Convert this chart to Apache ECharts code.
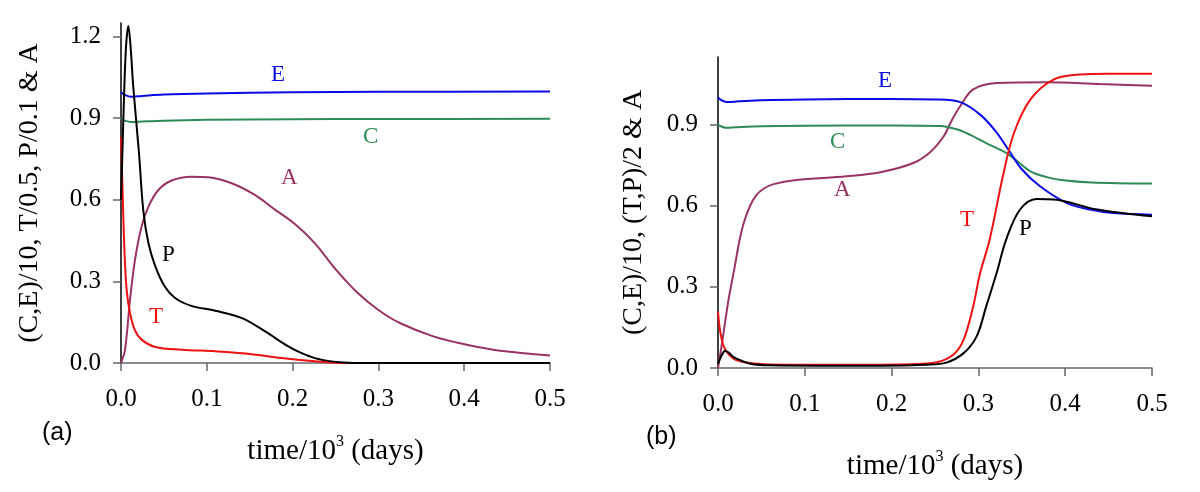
<!DOCTYPE html>
<html>
<head>
<meta charset="utf-8">
<script src="https://cdn.jsdelivr.net/npm/echarts@6/dist/echarts.min.js"></script>
<style>
  html, body { margin: 0; padding: 0; background: #fff; }
  #chart { width: 1200px; height: 492px; }
</style>
</head>
<body>
<div id="chart"></div>
<script>
// panel (a): time/10^3 days vs scaled values
const xTicks = [0, 0.1, 0.2, 0.3, 0.4, 0.5];
const yTicks = [0, 0.3, 0.6, 0.9, 1.2];

const aE = [[0,0.995],[0.005,0.985],[0.012,0.979],[0.025,0.982],[0.05,0.987],[0.1,0.991],[0.2,0.995],[0.3,0.997],[0.5,0.998]];
const aC = [[0,0.898],[0.005,0.89],[0.012,0.886],[0.025,0.888],[0.05,0.891],[0.1,0.894],[0.2,0.896],[0.3,0.897],[0.5,0.898]];
const aP = [[0,0.6],[0.0016,0.77],[0.0039,1.016],[0.006,1.17],[0.0085,1.239],[0.011,1.17],[0.0143,1.016],[0.021,0.77],[0.026,0.56],
  [0.032,0.44],[0.04,0.355],[0.051,0.281],[0.063,0.239],[0.082,0.21],[0.11,0.192],[0.141,0.165],[0.168,0.116],[0.195,0.061],
  [0.21,0.037],[0.226,0.018],[0.245,0.006],[0.26,0.002],[0.28,0],[0.5,0]];
const aT = [[0,0.83],[0.0016,0.66],[0.004,0.416],[0.0066,0.269],[0.0105,0.184],[0.016,0.122],[0.024,0.086],[0.04,0.059],
  [0.071,0.049],[0.11,0.043],[0.148,0.034],[0.187,0.018],[0.226,0.006],[0.255,0],[0.5,0]];
const aA = [[0,0],[0.0047,0.049],[0.0105,0.232],[0.0163,0.379],[0.024,0.502],[0.032,0.575],[0.0435,0.636],[0.059,0.671],
  [0.082,0.685],[0.102,0.683],[0.129,0.661],[0.156,0.618],[0.179,0.565],[0.203,0.51],[0.226,0.44],[0.25,0.345],
  [0.275,0.26],[0.3,0.195],[0.325,0.147],[0.364,0.098],[0.403,0.067],[0.442,0.045],[0.5,0.028]];

// panel (b)
const bE = [[0,1.0],[0.004,0.99],[0.01,0.984],[0.02,0.985],[0.05,0.99],[0.1,0.993],[0.2,0.995],[0.25,0.993],[0.279,0.983],
  [0.302,0.937],[0.32,0.875],[0.335,0.805],[0.35,0.735],[0.371,0.672],[0.402,0.61],[0.43,0.585],[0.455,0.573],[0.5,0.567]];
const bC = [[0,0.9],[0.004,0.893],[0.01,0.888],[0.02,0.89],[0.05,0.894],[0.1,0.896],[0.2,0.897],[0.256,0.895],[0.275,0.883],
  [0.29,0.863],[0.31,0.83],[0.335,0.789],[0.36,0.727],[0.38,0.705],[0.398,0.694],[0.43,0.686],[0.5,0.682]];
const bA = [[0,0],[0.005,0.1],[0.012,0.25],[0.019,0.37],[0.025,0.475],[0.03,0.54],[0.037,0.6],[0.044,0.638],[0.052,0.662],
  [0.064,0.68],[0.09,0.695],[0.148,0.709],[0.187,0.724],[0.225,0.758],[0.245,0.8],[0.26,0.857],[0.27,0.92],[0.279,0.968],
  [0.294,1.03],[0.321,1.054],[0.379,1.057],[0.44,1.05],[0.5,1.044]];
const bT = [[0,0.209],[0.006,0.085],[0.0175,0.035],[0.033,0.02],[0.06,0.013],[0.1,0.012],[0.187,0.012],[0.23,0.015],
  [0.252,0.021],[0.271,0.049],[0.283,0.105],[0.294,0.228],[0.302,0.351],[0.313,0.475],[0.329,0.721],[0.341,0.869],
  [0.36,0.993],[0.387,1.067],[0.417,1.085],[0.45,1.088],[0.5,1.088]];
const bP = [[0,0.015],[0.004,0.045],[0.008,0.063],[0.012,0.058],[0.018,0.04],[0.025,0.03],[0.037,0.016],[0.06,0.01],
  [0.187,0.008],[0.24,0.012],[0.263,0.02],[0.283,0.055],[0.298,0.117],[0.309,0.228],[0.321,0.351],[0.332,0.475],
  [0.348,0.586],[0.367,0.625],[0.387,0.623],[0.437,0.586],[0.5,0.561]];

const colors = { E: '#0a0ae6', C: '#2e8b57', A: '#993366', T: '#ee1111', P: '#000000' };
const serif = 'Liberation Serif';

const chart = echarts.init(document.getElementById('chart'));

function xAxisFor(gi, gap) {
  return {
    gridIndex: gi, type: 'value', min: 0, max: 0.5, interval: 0.1,
    name: 'time/10{sup|3} (days)', nameLocation: 'middle', nameGap: gap,
    nameTextStyle: {
      fontFamily: serif, fontSize: 29, color: '#000', lineHeight: 34,
      rich: { sup: { fontFamily: serif, fontSize: 16, verticalAlign: 'top', lineHeight: 18, color: '#000' } }
    },
    axisLine: { lineStyle: { color: '#666', width: 1.5 } },
    axisTick: { inside: false, length: 8, lineStyle: { color: '#666', width: 1.5 }, customValues: xTicks },
    axisLabel: { margin: 24, fontFamily: serif, fontSize: 25, color: '#000', customValues: xTicks,
      formatter: v => v.toFixed(1) },
    splitLine: { show: false }
  };
}
function yAxisFor(gi, max, name, gap) {
  return {
    gridIndex: gi, type: 'value', min: 0, max: max,
    name: name, nameLocation: 'middle', nameGap: gap,
    nameTextStyle: { fontFamily: serif, fontSize: 28, color: '#000' },
    axisLine: { show: true, lineStyle: { color: '#000', width: 1.5 } },
    axisTick: { show: true, length: 8, lineStyle: { color: '#666', width: 1.5 }, customValues: yTicks },
    axisLabel: { margin: 20, fontFamily: serif, fontSize: 25, color: '#000', customValues: yTicks,
      formatter: v => v.toFixed(1) },
    splitLine: { show: false }
  };
}
function line(name, data, gi) {
  return {
    name: name, type: 'line', xAxisIndex: gi, yAxisIndex: gi, data: data,
    showSymbol: false, smooth: 0.35, silent: true,
    lineStyle: { color: colors[name], width: 2 }
  };
}
function tag(text, x, y, color) {
  return { type: 'text', left: x, top: y, style: { text: text, fill: color, font: '23px "Liberation Serif"' } };
}

const option = {
  animation: false,
  grid: [
    { left: 121, top: 23, width: 429, height: 340 },
    { left: 718, top: 57, width: 434, height: 311 }
  ],
  xAxis: [xAxisFor(0, 71), xAxisFor(1, 81)],
  yAxis: [
    yAxisFor(0, 1.25, '(C,E)/10, T/0.5, P/0.1 & A', 77),
    yAxisFor(1, 1.15, '(C,E)/10, (T,P)/2 & A', 70)
  ],
  series: [
    line('A', aA, 0), line('C', aC, 0), line('E', aE, 0), line('T', aT, 0), line('P', aP, 0),
    line('A', bA, 1), line('C', bC, 1), line('E', bE, 1), line('T', bT, 1), line('P', bP, 1)
  ],
  graphic: [
    tag('E', 271, 63, colors.E), tag('C', 363, 125, colors.C), tag('A', 281, 166, colors.A),
    tag('P', 162, 243, colors.P), tag('T', 149, 305, colors.T),
    tag('E', 878, 69, colors.E), tag('C', 830, 130, colors.C), tag('A', 834, 178, colors.A),
    tag('T', 960, 208, colors.T), tag('P', 1019, 217, colors.P),
    { type: 'text', left: 42, top: 421, style: { text: '(a)', fill: '#000', font: '25px "Liberation Sans"' } },
    { type: 'text', left: 646, top: 425, style: { text: '(b)', fill: '#000', font: '25px "Liberation Sans"' } }
  ]
};
chart.setOption(option);
</script>
</body>
</html>
